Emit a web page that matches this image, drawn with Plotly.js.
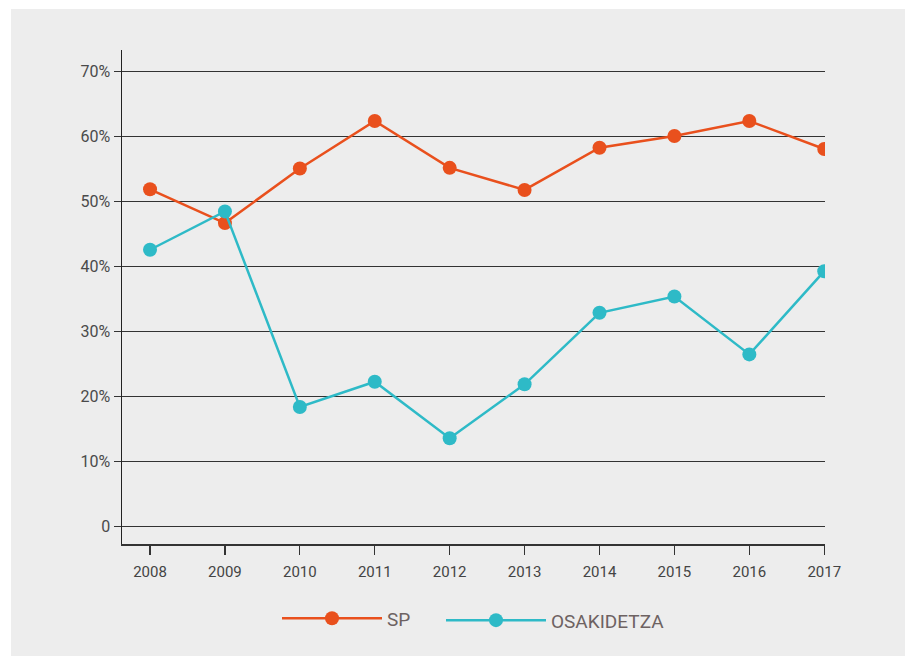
<!DOCTYPE html>
<html>
<head>
<meta charset="utf-8">
<script src="https://cdn.plot.ly/plotly-3.0.1.min.js"></script>
<style>
  html, body { margin: 0; padding: 0; background: #ffffff; }
  #chart { width: 905px; height: 656px; }
</style>
</head>
<body>
<div id="chart"></div>
<script>
// Data
const years = [2008, 2009, 2010, 2011, 2012, 2013, 2014, 2015, 2016, 2017];
const spValues = [51.8, 46.6, 55.0, 62.3, 55.1, 51.7, 58.2, 60.0, 62.3, 58.0];
const osakidetzaValues = [42.5, 48.4, 18.3, 22.2, 13.5, 21.8, 32.8, 35.3, 26.4, 39.2];
const seriesNames = ['SP', 'OSAKIDETZA'];
const yTickVals = [0, 10, 20, 30, 40, 50, 60, 70];
const yTickText = ['0', '10%', '20%', '30%', '40%', '50%', '60%', '70%'];

const SP_COLOR = '#e9501d';
const OSA_COLOR = '#2ebac7';
const FONT = 'Roboto, sans-serif';

const traces = [
  {
    x: years, y: spValues, name: seriesNames[0], type: 'scatter', mode: 'lines+markers',
    line: { color: SP_COLOR, width: 2.5 },
    marker: { color: SP_COLOR, size: 14 },
    legend: 'legend'
  },
  {
    x: years, y: osakidetzaValues, name: seriesNames[1], type: 'scatter', mode: 'lines+markers',
    line: { color: OSA_COLOR, width: 2.5 },
    marker: { color: OSA_COLOR, size: 14 },
    legend: 'legend2'
  }
];

const legendCommon = {
  orientation: 'h',
  xanchor: 'left',
  yanchor: 'top',
  itemwidth: 100,
  font: { family: FONT, size: 19, color: '#6d6262' },
  bgcolor: 'rgba(0,0,0,0)'
};

const layout = {
  width: 905, height: 656,
  margin: { l: 122, r: 80, t: 50, b: 112 },
  paper_bgcolor: '#ffffff',
  plot_bgcolor: 'rgba(0,0,0,0)',
  showlegend: true,
  font: { family: FONT, color: '#444444' },
  shapes: [{
    type: 'rect', xref: 'paper', yref: 'paper', layer: 'below',
    x0: (11 - 122) / 703, x1: 1.3, y0: -0.4, y1: (544 - 9) / 494,
    fillcolor: '#ededed', line: { width: 0 }
  }],
  xaxis: {
    type: 'linear',
    automargin: false,
    range: [2007.626, 2017.01],
    tickvals: years,
    ticktext: years.map(String),
    showgrid: false, zeroline: false,
    showline: true, linecolor: '#333333', linewidth: 1.5,
    ticks: 'outside', ticklen: 9, tickwidth: 1.2, tickcolor: '#333333',
    ticklabelstandoff: 4,
    tickfont: { family: FONT, size: 15, color: '#444444' },
    fixedrange: true
  },
  yaxis: {
    automargin: false,
    range: [-2.77, 73.23],
    tickvals: yTickVals,
    ticktext: yTickText,
    showgrid: true, gridcolor: '#333333', gridwidth: 1,
    zeroline: false,
    showline: true, linecolor: '#222222', linewidth: 1.5,
    ticks: 'outside', ticklen: 7, tickwidth: 1, tickcolor: '#333333',
    tickfont: { family: FONT, size: 16, color: '#4a4a4a' },
    fixedrange: true
  },
  legend: Object.assign({}, legendCommon, { x: (277 - 122) / 703, y: -0.112 }),
  legend2: Object.assign({}, legendCommon, { x: (441 - 122) / 703, y: -0.116 })
};

Plotly.newPlot('chart', traces, layout, { displayModeBar: false, staticPlot: true });
</script>
</body>
</html>
